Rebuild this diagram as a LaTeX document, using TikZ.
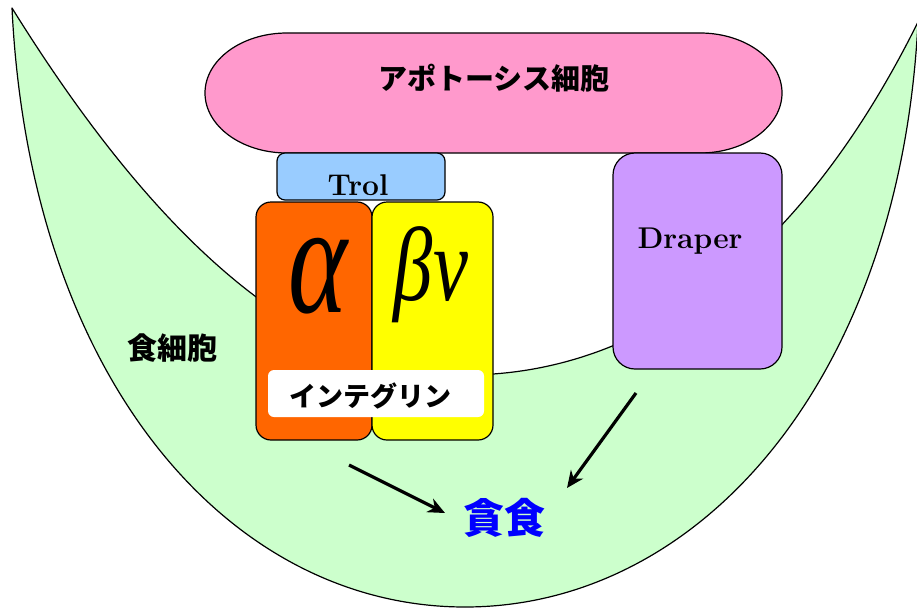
\documentclass[tikz,border=0pt]{standalone}
\usepackage{fontspec}
\newfontfamily\jpfont{Noto Sans CJK JP}
\newfontfamily\grfont{Liberation Serif}
\usetikzlibrary{arrows.meta}
\definecolor{cellgreen}{RGB}{204,255,204}
\definecolor{apopink}{RGB}{255,153,204}
\definecolor{trolblue}{RGB}{153,204,255}
\definecolor{alphaorange}{RGB}{255,102,0}
\definecolor{betayellow}{RGB}{255,255,0}
\definecolor{draperpurple}{RGB}{204,153,255}
\definecolor{eatblue}{RGB}{0,0,255}

\begin{document}
\begin{tikzpicture}[x=1pt, y=-1pt, line width=1.2pt, line join=round,
  protein/.style={draw, rounded corners=#1, inner sep=0pt},
  jp/.style={font=\jpfont\bfseries\fontsize{#1}{#1}\selectfont, inner sep=0pt},
  latin/.style={font=\bfseries\fontsize{30}{30}\selectfont, inner sep=0pt, anchor=base},
  greek/.style={font=\grfont\itshape\fontsize{#1}{#1}\selectfont, inner sep=0pt,
                text height=70pt, text depth=16pt, anchor=base},
  feed/.style={-{Stealth[length=17pt, width=15pt]}, line width=3.2pt}]
  \useasboundingbox (0,0) rectangle (917,610);
  % phagocyte (crescent)
  \filldraw[fill=cellgreen] (12,8) .. controls (30,380) and (230,607) .. (465,607)
    .. controls (700,607) and (900,380) .. (918,22)
    .. controls (800,260) and (640,375) .. (465,375)
    .. controls (300,375) and (150,230) .. (12,8) -- cycle;
  % apoptotic cell
  \filldraw[fill=apopink] (287,33) -- (700,33)
    arc[start angle=-90, end angle=90, x radius=82, y radius=60] -- (287,153)
    arc[start angle=90, end angle=270, x radius=82, y radius=60] -- cycle;
  \node[jp=29] (apop) at (494,78) {アポトーシス細胞};
  % receptors
  \node[protein=8, fill=trolblue, minimum width=168, minimum height=47] (trol) at (361,176.5) {};
  \node[latin] (troltext) at (358,195) {Trol};
  \node[protein=15, fill=alphaorange, minimum width=116, minimum height=238] (alpha) at (314,321) {};
  \node[protein=15, fill=betayellow, minimum width=121, minimum height=238] (beta) at (432.5,321) {};
  \node[greek=150] (alphatext) at (318,312) {\scalebox{0.75}[1.05]{α}};
  \node[greek=105] (betatext) at (431,300) {\scalebox{0.75}[1]{βν}};
  \node[rounded corners=6, fill=white, minimum width=216, minimum height=47] (intbox) at (376,393.5) {};
  \node[jp=27] (integrin) at (370,396) {インテグリン};
  \node[protein=22, fill=draperpurple, minimum width=169, minimum height=216] (draper) at (697.5,261) {};
  \node[latin] (drapertext) at (690,248) {Draper};
  % labels
  \node[jp=30] (phago) at (172,348) {食細胞};
  \node[jp=41, text=eatblue] (eat) at (504,518) {貪食};
  % arrows
  \coordinate (a1) at (349,465);
  \coordinate (a1end) at (445,513);
  \coordinate (a2) at (636,393);
  \coordinate (a2end) at (567,488);
  \draw[feed] (a1) -- (a1end);
  \draw[feed] (a2) -- (a2end);
\end{tikzpicture}
\end{document}
